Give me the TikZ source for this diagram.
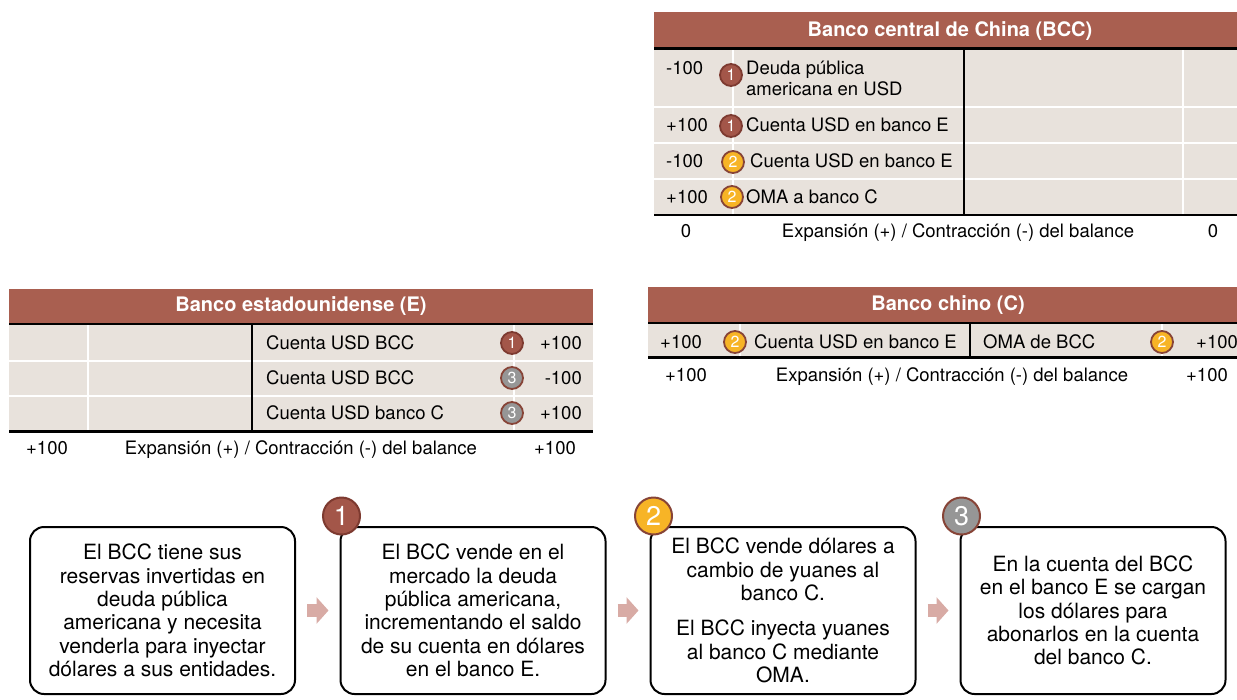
\documentclass[tikz,border=0pt]{standalone}
\usepackage{fontspec}
\setmainfont{TeX Gyre Heros}
\usetikzlibrary{arrows.meta,calc}

\definecolor{hdr}{RGB}{169,95,80}
\definecolor{cell}{RGB}{232,226,220}
\definecolor{oneF}{RGB}{163,86,73}
\definecolor{oneL}{RGB}{125,58,48}
\definecolor{twoF}{RGB}{247,180,38}
\definecolor{thrF}{RGB}{150,150,150}
\definecolor{ring}{RGB}{135,68,55}
\definecolor{flowc}{RGB}{216,171,165}

\tikzset{
  head/.style={text=white, font=\bfseries\fontsize{20}{24}\selectfont},
  txt/.style={font=\fontsize{18.5}{21.5}\selectfont, inner sep=0pt},
  foot/.style={txt, text height=13.5pt, text depth=4.5pt},
  lt/.style={txt, anchor=west, align=left},
  rt/.style={txt, anchor=east},
  sep/.style={white, line width=2pt},
  rule/.style={black, line width=2.5pt},
  dot/.style={circle, line width=1.8pt, draw=ring, text=white, inner sep=0pt,
    minimum size=22pt, font=\fontsize{16}{16}\selectfont},
  dotA/.style={dot, fill=oneF, draw=oneL},
  dotB/.style={dot, fill=twoF},
  dotC/.style={dot, fill=thrF},
  big/.style={dot, minimum size=37pt, line width=2pt, font=\fontsize{27}{27}\selectfont},
  stepbox/.style={draw, line width=2pt, rounded corners=14pt, minimum width=265pt,
    minimum height=167pt, align=center, inner sep=2pt, font=\fontsize{21}{23.3}\selectfont},
  flow/.style={flowc, line width=13pt, -{Triangle[length=12pt, width=26pt]}}
}

\begin{document}
\begin{tikzpicture}[x=1pt, y=-1pt]
\useasboundingbox (0,0) rectangle (1237,699);

% Banco central de China (BCC)
\fill[hdr] (654,12) rectangle (1237,48);
\fill[cell] (654,48) rectangle (1237,214);
\draw[sep] (654,107) -- (1237,107) (654,143) -- (1237,143) (654,179) -- (1237,179);
\draw[sep] (733,49) -- (733,214) (1183,49) -- (1183,214);
\draw[rule] (654,48.5) -- (1237,48.5) (654,215) -- (1237,215);
\draw[rule] (964,49) -- (964,214);
\path (950,31) node[head] (BCC) {Banco central de China (BCC)};
\path (666,68) node[lt] (Ba) {-100} (731,75) node[dotA] (Bam) {1} (746,78.5) node[lt] (Bat) {Deuda pública\\americana en USD};
\path (666,125) node[lt] (Bb) {+100} (731,126) node[dotA] (Bbm) {1} (746,125) node[lt] (Bbt) {Cuenta USD en banco E};
\path (666,161) node[lt] (Bc) {-100} (733,162) node[dotB] (Bcm) {2} (750,161) node[lt] (Bct) {Cuenta USD en banco E};
\path (666,197) node[lt] (Bd) {+100} (732,197) node[dotB] (Bdm) {2} (746,197) node[lt] (Bdt) {OMA a banco C};
\path (686,233) node[foot] (Bl) {0} (958,233) node[foot] (Bx) {Expansión (+) / Contracción (-) del balance} (1213,233) node[foot] (Br) {0};

% Banco estadounidense (E)
\fill[hdr] (9,289) rectangle (593,323);
\fill[cell] (9,323) rectangle (593,431);
\draw[sep] (9,361) -- (593,361) (9,396) -- (593,396);
\draw[sep] (88,325) -- (88,431) (514,325) -- (514,431);
\draw[rule] (9,324) -- (593,324) (9,431.5) -- (593,431.5);
\draw[rule] (252,325) -- (252,431);
\path (301,306) node[head] (USB) {Banco estadounidense (E)};
\path (266,343) node[lt] (Ea) {Cuenta USD BCC} (512,343) node[dotA] (Eam) {1} (582,343) node[rt] (Eav) {+100};
\path (266,378) node[lt] (Eb) {Cuenta USD BCC} (512,378) node[dotC] (Ebm) {3} (582,378) node[rt] (Ebv) {-100};
\path (266,413) node[lt] (Ec) {Cuenta USD banco C} (512,413) node[dotC] (Ecm) {3} (582,413) node[rt] (Ecv) {+100};
\path (47,450) node[foot] (El) {+100} (301,450) node[foot] (Ex) {Expansión (+) / Contracción (-) del balance} (555,450) node[foot] (Er) {+100};

% Banco chino (C)
\fill[hdr] (648,287) rectangle (1237,322);
\fill[cell] (648,322) rectangle (1237,357);
\draw[sep] (740,324) -- (740,356) (1162,324) -- (1162,356);
\draw[rule] (648,323) -- (1237,323) (648,357.5) -- (1237,357.5);
\draw[rule] (970,324) -- (970,357);
\path (948,305) node[head] (CB) {Banco chino (C)};
\path (660,342) node[lt] (Ca) {+100} (735,342) node[dotB] (Cam) {2} (754,342) node[lt] (Cat) {Cuenta USD en banco E};
\path (983,342) node[lt] (Cb) {OMA de BCC} (1162,342) node[dotB] (Cbm) {2} (1196,342) node[lt] (Cbv) {+100};
\path (686,377) node[foot] (Cl) {+100} (952,377) node[foot] (Cx) {Expansión (+) / Contracción (-) del balance} (1207,377) node[foot] (Cr) {+100};

% pasos
\node[stepbox] (s0) at (162.5,610.5) {El BCC tiene sus\\reservas invertidas en\\deuda pública\\americana y necesita\\venderla para inyectar\\dólares a sus entidades.};
\node[stepbox] (s1) at (473,610.5) {El BCC vende en el\\mercado la deuda\\pública americana,\\incrementando el saldo\\de su cuenta en dólares\\en el banco E.};
\node[stepbox] (s2) at (783,610.5) {El BCC vende dólares a\\cambio de yuanes al\\banco C.\\[12pt]El BCC inyecta yuanes\\al banco C mediante\\OMA.};
\node[stepbox] (s3) at (1093,610.5) {En la cuenta del BCC\\en el banco E se cargan\\los dólares para\\abonarlos en la cuenta\\del banco C.};
\path ($(s1.north west)+(2,-10)$) node[big, fill=oneF, draw=oneL] (n1) {1};
\path ($(s2.north west)+(4,-10)$) node[big, fill=twoF] (n2) {2};
\path ($(s3.north west)+(2,-10)$) node[big, fill=thrF] (n3) {3};

\draw[flow] ($(s0.east)+(11,0)$) -- ($(s1.west)+(-11,0)$);
\draw[flow] ($(s1.east)+(11,0)$) -- ($(s2.west)+(-11,0)$);
\draw[flow] ($(s2.east)+(11,0)$) -- ($(s3.west)+(-11,0)$);
\end{tikzpicture}
\end{document}
